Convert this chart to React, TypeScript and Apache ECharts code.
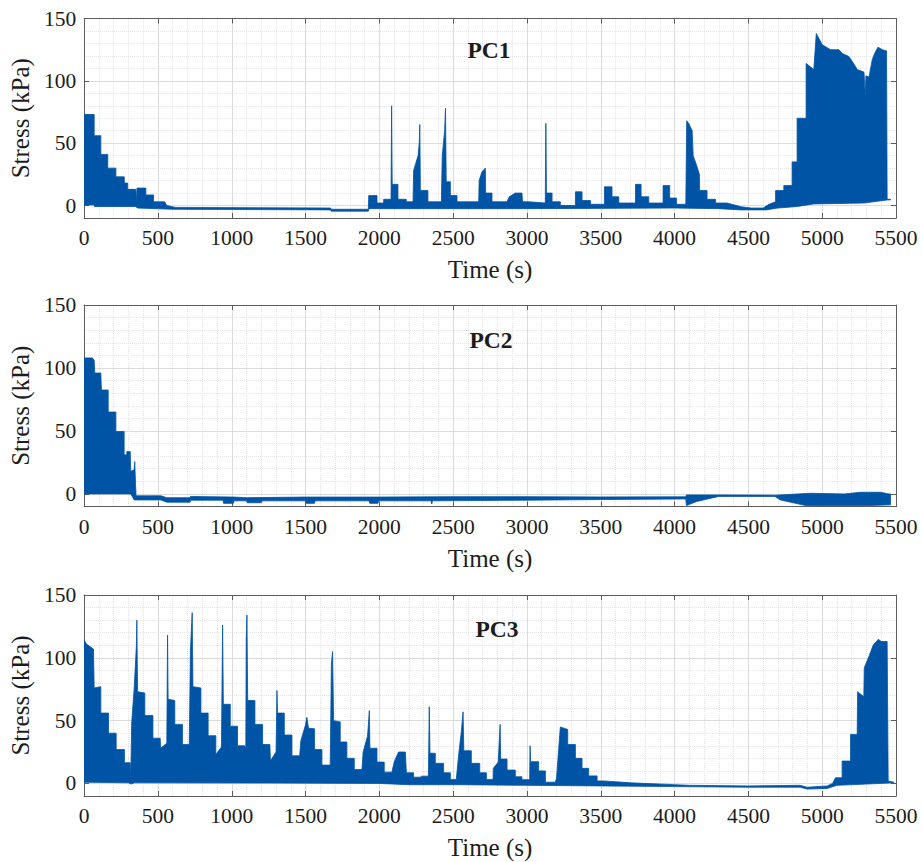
import React, { useEffect, useRef } from "react";
import * as echarts from "echarts";

// ---------------- axes ----------------
const X_MIN = 0;
const X_MAX = 5500;
const X_STEP = 500;
const Y_MIN = -10;
const Y_MAX = 150;
const Y_STEP = 50;
const xAxisName = "Time (s)";
const yAxisName = "Stress (kPa)";
const panelTitles = ["PC1", "PC2", "PC3"];

// ---------------- PC1 envelope (time s, stress kPa) ----------------
const pc1UpperT = [0, 68, 68, 113, 113, 160, 160, 215, 215, 272, 272, 295, 295, 350, 354, 358, 418, 418, 470, 470, 545, 560, 620, 1670, 1674, 1925, 1928, 1984, 1984, 2029, 2029, 2079, 2083, 2087, 2126, 2126, 2182, 2182, 2228, 2232, 2262, 2270, 2274, 2278, 2329, 2329, 2420, 2426, 2442, 2448, 2453, 2481, 2481, 2526, 2526, 2673, 2676, 2695, 2718, 2720, 2763, 2763, 2865, 2880, 2921, 2966, 2970, 3012, 3124, 3128, 3132, 3170, 3170, 3226, 3226, 3328, 3328, 3373, 3373, 3430, 3430, 3525, 3525, 3576, 3576, 3622, 3622, 3735, 3735, 3773, 3773, 3825, 3825, 3922, 3922, 3967, 3967, 4013, 4013, 4076, 4082, 4095, 4119, 4126, 4150, 4168, 4170, 4220, 4220, 4277, 4277, 4356, 4450, 4520, 4600, 4640, 4684, 4684, 4740, 4740, 4796, 4796, 4830, 4830, 4891, 4891, 4943, 4960, 5000, 5057, 5113, 5136, 5181, 5204, 5238, 5283, 5292, 5296, 5317, 5339, 5355, 5378, 5407, 5436, 5440, 5463];
const pc1UpperV = [73, 73, 56, 56, 41, 41, 30, 30, 23, 23, 18, 18, 13, 13, 3, 14, 14, 8.5, 8.5, 3, 3, 0, -1.5, -2, -3, -3, 8, 8, 2, 2, 5, 5, 80, 17, 17, 5, 5, 3, 3, 28, 40, 50, 65, 12, 12, 3, 3, 40, 60, 78, 19, 19, 8, 8, 3, 3, 20, 27, 30, 10, 10, 3, 3, 7, 10, 10, 3, 3, 2, 66, 10, 10, 3, 3, 0, 0, 11, 11, 4, 4, 1, 1, 15, 15, 7, 7, 2, 2, 17, 17, 7, 7, 2, 2, 16, 16, 6, 6, 1, 1, 68, 66, 60, 40, 32, 25, 12, 12, 5, 5, 2, 2, -1, -2, -2, 1, 3, 12, 12, 16, 16, 35, 35, 70, 70, 114, 109, 138, 129, 125, 125, 122, 119.5, 115.5, 109, 107, 88, 104, 103, 117, 122, 127, 125, 124, 5, 5];
const pc1LowerT = [0, 68, 70, 350, 360, 600, 1670, 1674, 1925, 1930, 3000, 4000, 4300, 4450, 4620, 4700, 4830, 4943, 5283, 5440, 5463];
const pc1LowerV = [0.5, 0.5, -0.8, -0.8, -2, -3, -3.5, -4.5, -4.5, -2.5, -2.5, -2, -2.5, -3.5, -3.5, -2, -0.8, 1.3, 2, 4.5, 4.5];

// ---------------- PC2 envelope ----------------
const pc2UpperT = [0, 56, 68, 72, 113, 117, 163, 163, 215, 215, 271, 271, 289, 289, 312, 316, 338, 343, 348, 352, 520, 560, 718, 720, 1012, 1100, 1500, 2000, 2500, 3000, 3500, 4076, 4080, 4300, 4680, 4921, 5150, 5260, 5395, 5452, 5463];
const pc2UpperV = [108, 108, 106, 96, 96, 82.5, 82.5, 65, 65, 49.5, 49.5, 31, 31, 33.6, 33.6, 18, 19, 25.7, 8, -1.5, -1.5, -3, -3, -2, -2.5, -3, -2.5, -2.5, -2.2, -2.2, -2.4, -2.3, -0.8, -0.8, -1, 0.5, 0, 1.3, 1.3, 0, 0];
const pc2LowerT = [0, 316, 339, 520, 560, 718, 720, 940, 945, 1010, 1015, 1100, 1105, 1200, 1205, 1500, 1505, 1560, 1565, 1930, 1935, 1990, 1995, 2350, 2355, 2360, 3000, 3500, 4076, 4080, 4150, 4300, 4680, 4717, 4898, 5260, 5463];
const pc2LowerV = [0, 0, -4.8, -4.8, -6.6, -6.6, -5, -5, -7.5, -7.5, -5.5, -5.5, -7, -7, -5.5, -5.5, -7.5, -7.5, -5.5, -5.5, -7.5, -7.5, -5.5, -5.5, -8, -5.5, -5, -4.5, -4, -9.3, -6, -2, -2, -4.8, -9.5, -9.5, -8.7];

// ---------------- PC3 envelope ----------------
const pc3UpperT = [0, 15, 63, 68, 113, 113, 165, 165, 217, 217, 273, 273, 312, 316, 322, 339, 354, 357, 362, 411, 411, 466, 466, 515, 518, 560, 565, 569, 614, 614, 666, 666, 712, 720, 732, 737, 791, 791, 840, 840, 892, 892, 930, 938, 943, 990, 990, 1039, 1039, 1087, 1095, 1098, 1103, 1108, 1157, 1157, 1209, 1209, 1258, 1262, 1300, 1306, 1310, 1356, 1356, 1408, 1408, 1460, 1468, 1498, 1509, 1520, 1561, 1561, 1611, 1611, 1667, 1675, 1683, 1690, 1735, 1735, 1780, 1780, 1830, 1830, 1882, 1890, 1920, 1932, 1936, 1984, 1984, 2033, 2033, 2085, 2100, 2130, 2176, 2183, 2232, 2232, 2282, 2285, 2332, 2338, 2343, 2379, 2379, 2435, 2435, 2481, 2481, 2521, 2540, 2555, 2567, 2572, 2623, 2623, 2680, 2680, 2725, 2725, 2770, 2772, 2805, 2818, 2822, 2865, 2865, 2921, 2921, 2966, 2966, 3018, 3021, 3025, 3079, 3079, 3125, 3125, 3192, 3200, 3226, 3250, 3276, 3276, 3328, 3328, 3373, 3373, 3418, 3418, 3475, 3475, 3520, 3700, 4000, 4100, 4500, 4850, 4898, 5034, 5070, 5090, 5135, 5135, 5192, 5192, 5237, 5240, 5282, 5285, 5320, 5345, 5380, 5400, 5440, 5447, 5485];
const pc3UpperV = [114, 111, 107, 76, 77, 56, 56, 40, 40, 27, 27, 16.5, 16.5, 5, 48, 76, 110, 130, 73, 72, 54, 54, 36, 36, 28, 32, 118, 67, 66, 47, 47, 31, 31, 106, 136, 77, 76, 56, 56, 38, 38, 23, 29, 126, 63, 63, 45.5, 45.5, 30, 30, 28, 115, 134, 66, 66, 47, 47, 31, 31, 18, 25, 74, 56, 56, 38.5, 38.5, 22, 22, 34, 46, 52.6, 44, 43.5, 27, 27, 14.6, 14.6, 95, 105, 50, 49, 33, 33, 20, 20, 11, 11, 25, 37.7, 58, 28, 28, 17, 17, 9, 9, 17, 25, 25, 8.5, 8.5, 5, 5, 5.8, 5.8, 61, 24, 24, 16, 16, 8.5, 8.5, 3.2, 3.2, 26, 41, 57, 26, 26, 16, 16, 8.5, 8.5, 3.2, 3.2, 12, 17, 47, 19.4, 19.4, 10.6, 10.6, 5.3, 5.3, 3, 3, 30, 17.3, 17.3, 10, 10, 1, 1, 4, 45, 44, 43, 31, 31, 20, 20, 12, 12, 6, 6, 2, 2, 0.5, -1, -1.5, -2, -1.5, -3, -2, 0, 4.5, 4.5, 17.8, 17.8, 39, 39, 73, 69, 92, 102, 110, 114.7, 113, 113, 2, 1];
const pc3LowerT = [0, 300, 316, 340, 1300, 2000, 2200, 2550, 3000, 3500, 4000, 4500, 4850, 4898, 5034, 5100, 5300, 5485];
const pc3LowerV = [1, 0.5, -0.5, 0.5, 0.3, 0, -1, -1, -1.5, -2, -2.5, -3, -3, -4.5, -4, -1.5, -0.5, 0.5];

const panels = [
  { upT: pc1UpperT, upV: pc1UpperV, loT: pc1LowerT, loV: pc1LowerV },
  { upT: pc2UpperT, upV: pc2UpperV, loT: pc2LowerT, loV: pc2LowerV },
  { upT: pc3UpperT, upV: pc3UpperV, loT: pc3LowerT, loV: pc3LowerV },
];

// ---------------- layout / style ----------------
const FONT = "'Liberation Serif', 'Times New Roman', serif";
const FILL = "#0054A6";
const BOX = "#5c5c5c";
const TEXT = "#1c1c1c";
const GRID_LEFT = 84;
const GRID_WIDTH = 812;
const gridTops = [18.5, 305, 595];
const gridHeights = [199.5, 201.5, 201];
const titleY = [50, 340, 629];
const titleX = [489, 491, 497];

function bandRenderer(p: any) {
  return (params: any, api: any) => {
    const pts: number[][] = [];
    for (let i = 0; i < p.upT.length; i++) pts.push(api.coord([p.upT[i], p.upV[i]]));
    for (let i = p.loT.length - 1; i >= 0; i--) pts.push(api.coord([p.loT[i], p.loV[i]]));
    return {
      type: "polygon",
      shape: { points: pts },
      style: { fill: FILL, stroke: FILL, lineWidth: 0.8 },
    };
  };
}

export default function App() {
  const ref = useRef<HTMLDivElement>(null);
  useEffect(() => {
    if (!ref.current) return;
    const chart = echarts.init(ref.current, null, { renderer: "svg" });
    const grid: any[] = [];
    const xAxis: any[] = [];
    const yAxis: any[] = [];
    const series: any[] = [];
    const graphic: any[] = [];
    panels.forEach((p, k) => {
      grid.push({ left: GRID_LEFT, top: gridTops[k], width: GRID_WIDTH, height: gridHeights[k], containLabel: false });
      const lineStyle = { color: BOX, width: 1 };
      xAxis.push({
        gridIndex: k, type: "value", min: X_MIN, max: X_MAX, interval: X_STEP, position: "bottom",
        axisLine: { show: true, onZero: false, lineStyle },
        axisTick: { show: true, inside: true, length: 5, lineStyle },
        axisLabel: { fontFamily: FONT, fontSize: 21.5, color: TEXT, margin: 9, formatter: (v: number) => String(v) },
        splitLine: { show: true, lineStyle: { color: "#dcdcdc", width: 1 } },
        minorTick: { show: false, splitNumber: 5 },
        minorSplitLine: { show: true, lineStyle: { color: "#e3e3e3", width: 1, type: "dotted" } },
        name: xAxisName, nameLocation: "middle", nameGap: 39,
        nameTextStyle: { fontFamily: FONT, fontSize: 25, color: TEXT },
      });
      xAxis.push({
        gridIndex: k, type: "value", min: X_MIN, max: X_MAX, interval: X_STEP, position: "top",
        axisLine: { show: true, onZero: false, lineStyle },
        axisTick: { show: true, inside: true, length: 5, lineStyle },
        axisLabel: { show: false },
        splitLine: { show: false },
      });
      yAxis.push({
        gridIndex: k, type: "value", min: Y_MIN, max: Y_MAX, minInterval: Y_STEP, maxInterval: Y_STEP, position: "left",
        axisLine: { show: true, onZero: false, lineStyle },
        axisTick: { show: true, inside: true, length: 5, lineStyle },
        axisLabel: {
          fontFamily: FONT, fontSize: 21.5, color: TEXT, margin: 8,
          formatter: (v: number) => (v % Y_STEP === 0 ? String(v) : ""),
        },
        splitLine: { show: true, lineStyle: { color: "#dcdcdc", width: 1 } },
        minorTick: { show: false, splitNumber: 5 },
        minorSplitLine: { show: true, lineStyle: { color: "#e3e3e3", width: 1, type: "dotted" } },
        name: yAxisName, nameLocation: "middle", nameGap: 49,
        nameTextStyle: { fontFamily: FONT, fontSize: 25, color: TEXT },
      });
      yAxis.push({
        gridIndex: k, type: "value", min: Y_MIN, max: Y_MAX, minInterval: Y_STEP, maxInterval: Y_STEP, position: "right",
        axisLine: { show: true, onZero: false, lineStyle },
        axisTick: { show: true, inside: true, length: 5, lineStyle },
        axisLabel: { show: false },
        splitLine: { show: false },
      });
      series.push({
        type: "custom",
        xAxisIndex: k * 2,
        yAxisIndex: k * 2,
        data: [[0, 0]],
        renderItem: bandRenderer(p),
        clip: true,
        silent: true,
        z: 3,
      });
      graphic.push({
        type: "text",
        x: titleX[k],
        y: titleY[k],
        z: 10,
        style: {
          text: panelTitles[k],
          fontFamily: FONT, fontSize: 23.5, fontWeight: "bold", fill: TEXT,
          align: "center", verticalAlign: "middle",
        },
      });
    });
    chart.setOption({ animation: false, backgroundColor: "#fff", grid, xAxis, yAxis, series, graphic });
    return () => chart.dispose();
  }, []);
  return (
    <div
      ref={ref}
      style={{ position: "fixed", left: 0, top: 0, width: 922, height: 862, background: "#fff" }}
    />
  );
}
